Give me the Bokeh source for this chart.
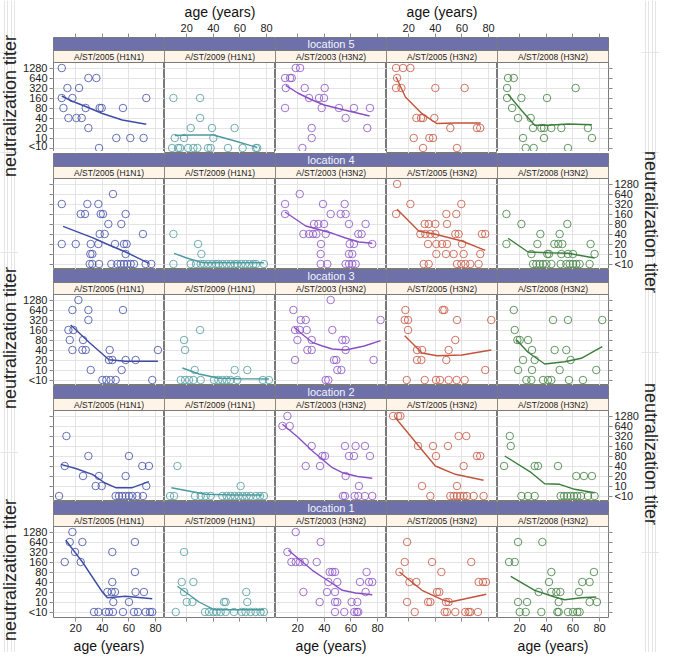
from bokeh.plotting import figure
from bokeh.models import Range1d, FixedTicker, LinearAxis, Grid, BoxAnnotation, Label
from bokeh.layouts import gridplot, row
from bokeh.embed import file_html
from bokeh.resources import INLINE

# ---------------- data ----------------
AGE_TICKS = [20, 40, 60, 80]
TITER_LABELS = ["<10", "10", "20", "40", "80", "160", "320", "640", "1280"]   # level 0..8
LOCATIONS = ["location 5", "location 4", "location 3", "location 2", "location 1"]
STRAINS = ["A/ST/2005 (H1N1)", "A/ST/2009 (H1N1)", "A/ST/2003 (H3N2)",
           "A/ST/2005 (H3N2)", "A/ST/2008 (H3N2)"]
STRAIN_COLORS = ["#3E4CA6", "#4B9A9F", "#8A4FC4", "#C4533C", "#3C7D3C"]

# (age, titer level) pairs per panel; level 0 = "<10", 8 = "1280"
loc5_s1 = [(9.5,8),(13.75,6),(22.5,6),(29.5,7),(35.5,7),(9.5,5),(17.5,5),(73,5),(10.75,4),(27.5,4),
           (38,4),(39.5,4),(55.5,4),(14.5,3),(20.5,3),(24.5,3),(29.5,2),(50.5,1),(61,1),(71,1),(37.5,0)]
loc5_s1_fit = [(9.5,5.2),(17,4.7),(27.5,4.15),(40,3.45),(55,2.8),(73,2.37)]
loc5_s2 = [(10,5),(30,5),(30,3),(23,2),(39,2),(56,2),(11,1),(18,1),(40,1),(9,0),(13.5,0),(15,0),
           (21,0),(25,0),(28,0),(36,0),(38,0),(51,0),(62,0),(72,0),(73,0)]
loc5_s2_fit = [(11,1.25),(25,1.3),(40,1.3),(55,0.75),(73,0.05)]
loc5_s3 = [(18.5,8),(21.75,8),(10.5,7),(14.25,7),(15.5,7),(11,6),(25.25,6),(40.25,6),(28.5,5),(36,5),
           (39.75,5),(10.5,4),(38,4),(51,4),(62.25,4),(74.25,4),(56,3),(72.25,2),(30.5,2),(30.5,1),(23.5,0)]
loc5_s3_fit = [(11,6.27),(20,5.5),(30,4.85),(40,4.3),(55,3.8),(74,3.2)]
loc5_s4 = [(10.5,8),(15.75,8),(21.25,8),(11.25,7),(10.5,6),(14.5,6),(40,6),(62,6),(25.75,3),(29.25,3),
           (30.75,3),(39.25,3),(51.25,2),(71.25,2),(73.75,2),(23.75,1),(35.5,1),(38.25,1),(30.75,0),(56.25,0)]
loc5_s4_fit = [(10.5,7.1),(17.5,5.1),(30,3.43),(41,2.45),(55,2.5),(74,2.5)]
loc5_s5 = [(11.25,7),(15.5,7),(10.5,6),(62,6),(10.5,5),(21.25,5),(40.5,5),(14.25,4),(18.75,3),(28.25,3),
           (30,2),(36.25,2),(38.25,2),(43.75,2),(51.25,2),(71.25,2),(22.5,1),(38.25,1),(74.25,1),
           (24.5,0),(30.5,0),(56.25,0)]
loc5_s5_fit = [(11.25,5.37),(21.25,3.77),(31.25,2.27),(41.25,2.27),(56.25,2.4),(74.25,2.33)]

loc4_s1 = [(48,7),(9.5,6),(28.75,6),(37,6),(23.75,5),(27,5),(38.75,5),(40.5,5),(57.5,5),(44.5,4),(54.25,4),
           (38,3),(41.75,3),(70.5,3),(9.5,2),(20,2),(31.25,2),(37,2),(49.5,2),(56.25,2),(58.25,2),(31,1),
           (32.5,1),(57.5,1),(30.5,0),(32.5,0),(37.5,0),(46.75,0),(51.25,0),(53.75,0),(56.25,0),(58.75,0),
           (61.25,0),(63.75,0),(72.5,0),(76.75,0)]
loc4_s1_fit = [(10.5,3.77),(32.5,2.63),(45,1.9),(57.5,1.2),(75,0.07)]
loc4_s2 = [(10,3),(28.5,2),(31,1),(10,0),(23,0),(27,0),(30.5,0),(33,0),(36,0),(39,0),(42,0),(44,0),(47,0),
           (50,0),(53,0),(56,0),(58,0),(61,0),(64,0),(67,0),(70,0),(72,0),(78,0)]
loc4_s2_fit = [(10.5,1.07),(20,0.6),(31.75,0.13),(50,0.13),(78,0.13)]
loc4_s3 = [(21.5,7),(10.5,6),(39,6),(55.25,6),(10.5,5),(44.75,5),(52.25,5),(56,5),(32.25,4),(35.5,4),
           (39.75,4),(58.5,4),(71,4),(24.25,3),(28.5,3),(31.5,3),(34,3),(41,3),(65.5,3),(68,3),(37.5,2),
           (59,2),(62.25,2),(76,2),(37.25,1),(58.5,1),(61,1),(37.25,0),(42.25,0),(56,0),(58.5,0),(61,0),(63.5,0)]
loc4_s3_fit = [(10.5,5.2),(26,3.8),(46,3.07),(56,2.6),(66,2.2),(76,2.07)]
loc4_s4 = [(11.25,8),(21.25,6),(59.5,6),(10.5,5),(48.25,5),(55.75,5),(32,4),(35,4),(40,4),(48.75,4),
           (28.75,3),(32.5,3),(36.25,3),(40,3),(55,3),(57.5,3),(75,3),(77.5,3),(34.5,2),(40.75,2),(45,2),
           (48.75,2),(60,2),(40.75,1),(48,1),(53.75,1),(61.25,1),(73.75,1),(31.25,0),(35,0),(56.25,0),
           (59.5,0),(62.5,0),(66.25,0),(72.5,0)]
loc4_s4_fit = [(11.25,5.47),(27.5,3.3),(40,2.97),(60,2.3),(77.5,1.37)]
loc4_s5 = [(10,5),(21.25,4),(55.75,4),(35.5,3),(50,3),(10,2),(33.25,2),(46,2),(49,2),(52,2),(73.25,2),
           (28.75,1),(40.75,1),(42,1),(51.25,1),(56.25,1),(60,1),(76.25,1),(30,0),(32.5,0),(35,0),(37.5,0),
           (40,0),(43.75,0),(50.75,0),(55,0),(57.5,0),(60,0),(62.5,0),(65,0),(72.5,0)]
loc4_s5_fit = [(11.25,2.57),(26.25,1.2),(41.25,1.13),(56.25,1.07),(76.25,0.6)]

loc3_s1 = [(22,8),(17.5,7),(29.5,7),(55.5,7),(29.5,6),(14.5,5),(18.25,5),(15.5,4),(25.5,4),(17.5,3),(25,3),
           (27.5,3),(45.5,3),(81.75,3),(45,2),(47.5,2),(57.5,2),(65,2),(31.25,1),(54.5,1),(40,0),(43,0),
           (46.25,0),(50,0),(77.5,0)]
loc3_s1_fit = [(16.25,5.5),(30,3.77),(45,2.03),(57.5,1.87),(81.75,1.87)]
loc3_s2 = [(30,5),(18,4),(18.75,3),(26,1),(56,1),(65.5,1),(15.5,0),(18.75,0),(21.75,0),(25,0),(30.5,0),
           (40.5,0),(43.75,0),(46.75,0),(50,0),(53,0),(58,0),(77.25,0),(81.75,0)]
loc3_s2_fit = [(16.75,1.2),(29.25,0.6),(44.25,0.17),(60,0.12),(81.75,0.1)]
loc3_s3 = [(16.75,7),(22.25,6),(26,6),(18,5),(21.5,5),(26.75,5),(19.75,4),(30.5,4),(27.25,3),(30.5,3),
           (18,2),(41,0),(43,0),(44.75,8),(82.25,6),(46,5),(53.5,4),(56,4),(56,3),(47.25,2),(49,2),(77,2),
           (49.75,1),(52.75,1)]
loc3_s3_fit = [(17.25,5.27),(25,4.4),(31,3.77),(38.5,3.4),(46,3.1),(56,3.0),(70,3.4),(82.25,3.93)]
loc3_s4 = [(17.5,7),(45.5,7),(46.75,7),(17,6),(19.5,6),(56.25,6),(82,6),(19.5,5),(55,4),(26.25,3),(30,3),
           (50,3),(26.25,2),(29.5,2),(48.25,2),(77.5,1),(18.5,0),(32,0),(40.5,0),(43.5,0),(50,0),(56,0),(62,0)]
loc3_s4_fit = [(17,4.43),(30,2.7),(41.25,2.43),(60,2.5),(82,3.0)]
loc3_s5 = [(15.5,7),(45,6),(56.25,6),(82,6),(16.25,5),(18.25,4),(20,4),(26.25,4),(29.25,3),(46.25,3),
           (55,3),(22.5,2),(31.25,2),(58.25,2),(18.75,1),(29.25,1),(50,1),(77.5,1),(25,0),(28.75,0),
           (37.5,0),(41.25,0),(43.75,0),(57,0),(67.5,0)]
loc3_s5_fit = [(17.5,4.03),(26.25,2.77),(38.75,1.6),(53.75,1.83),(66.25,2.17),(82,3.33)]

loc2_s1 = [(13,6),(29.5,4),(60,4),(11.75,3),(70,3),(75,3),(25.5,2),(37.5,2),(57.5,2),(35,1),(39.5,1),
           (73,1),(7.5,0),(50,0),(52.5,0),(55,0),(57.5,0),(60,0),(62.5,0),(66.25,0),(70.5,0)]
loc2_s1_fit = [(8.75,3.17),(20,2.75),(32.5,2.17),(42,1.3),(50,0.83),(62.5,0.83),(75,1.43)]
loc2_s2 = [(13,3),(60.5,1),(7.5,0),(10.5,0),(26.25,0),(30.5,0),(34.25,0),(38,0),(46.75,0),(50,0),(53,0),
           (56,0),(59,0),(62,0),(65,0),(68,0),(72,0),(75,0),(78,0)]
loc2_s2_fit = [(8.5,0.83),(34.25,0.17),(55,0.1),(76.75,0.1)]
loc2_s3 = [(12.25,8),(8.5,7),(14,7),(30.5,5),(38.5,4),(40.5,4),(26,3),(36.75,3),(55.5,5),(63.5,5),(70.5,5),
           (58.5,4),(62.25,4),(74.25,4),(56,2),(66,1),(54,0),(55.5,0),(62.75,0),(65.5,0),(70.5,0),(76,0)]
loc2_s3_fit = [(8.5,7.17),(20,5.9),(31,4.5),(46,2.83),(53.5,2.33),(65,1.95),(76,1.77)]
loc2_s4 = [(8.25,8),(12,8),(13.75,8),(57.5,6),(63.25,6),(27,5),(38.25,5),(49.5,5),(40.5,4),(71.25,4),
           (73.75,4),(61.25,3),(30,1),(56.25,1),(36.25,0),(51.25,0),(53.75,0),(56.25,0),(58.75,0),(61.25,0),
           (63.75,0),(68.75,0),(76.25,0)]
loc2_s4_fit = [(10,7.83),(27.5,5.0),(40,3.0),(55,2.17),(76.25,1.57)]
loc2_s5 = [(12.5,6),(13.25,5),(8.25,3),(31.25,3),(33.75,3),(48.75,3),(62.5,2),(68.25,2),(74.25,2),
           (21.25,0),(26.25,0),(31.25,0),(50.75,0),(53.25,0),(55.75,0),(58.25,0),(60.75,0),(63.25,0),
           (66,0),(71.25,0),(76.25,0)]
loc2_s5_fit = [(8.75,4.0),(28.75,2.33),(38.75,1.23),(50,1.17),(61.25,0.67),(76.25,0.33)]

loc1_s1 = [(17.5,8),(15.5,7),(25,7),(64.5,7),(19.5,6),(47.5,6),(11.75,5),(23.75,5),(64.5,4),(47.5,3),
           (43.75,2),(47,2),(49.5,2),(65,2),(71.25,2),(48.25,1),(60,1),(33.75,0),(37,0),(42.5,0),(45,0),
           (48,0),(55.5,0),(63.75,0),(66.75,0),(72.5,0),(75.75,0),(77.5,0)]
loc1_s1_fit = [(12.5,7.17),(25,5.0),(40,2.0),(43.75,1.43),(57.5,1.57),(77.5,1.33)]
loc1_s2 = [(18,6),(16.25,3),(25,3),(18,2),(64.75,2),(20,1),(24.25,1),(48,1),(49.25,1),(65.5,1),(11.75,0),
           (33.75,0),(36.75,0),(40,0),(42.5,0),(45.5,0),(49.25,0),(55.5,0),(61.25,0),(64.25,0),(68,0),
           (71.75,0),(75.5,0),(78,0)]
loc1_s2_fit = [(13,2.57),(29.25,1.0),(40.5,0.23),(78,0.23)]
loc1_s3 = [(18.5,8),(37.25,7),(12.25,6),(15.25,5),(18.5,5),(21.5,5),(25.25,5),(34.25,5),(44,4),(46,4),
           (48,4),(71.75,4),(43,3),(49.75,3),(66.75,3),(73.5,3),(76,3),(24.25,2),(42,2),(48,2),(71,2),
           (36.5,1),(48,1),(49.75,1),(60.5,1),(64.75,1),(48,0),(55,0),(62.5,0),(64.5,0),(65.5,0)]
loc1_s3_fit = [(13,6.17),(31,4.17),(38.5,3.5),(46,2.85),(53.5,2.17),(63.5,1.9),(76,1.73)]
loc1_s4 = [(18.75,7),(17,5),(37.5,5),(67,5),(13,4),(44.5,4),(20.5,3),(25.75,3),(72.5,3),(75.75,3),(78,3),
           (41.25,2),(43,2),(18.75,1),(34.5,1),(36.25,1),(48,1),(50,1),(24.5,0),(47,0),(48.75,0),(55,0),
           (62.5,0),(65,0),(66.25,0),(72,0)]
loc1_s4_fit = [(13,4.0),(30,2.17),(45,1.23),(51.25,1.0),(78.25,1.77)]
loc1_s5 = [(18.75,7),(37,7),(12,5),(16.25,5),(43.75,4),(75.75,4),(42,3),(67,3),(72.5,3),(34.25,2),
           (43.75,2),(47.5,2),(50.5,2),(64.5,2),(18.75,1),(25.5,1),(49.25,1),(72.5,1),(78,1),(20,0),
           (24.5,0),(36.25,0),(48.25,0),(49.25,0),(56.25,0),(60,0),(63.25,0),(65,0)]
loc1_s5_fit = [(13.25,3.57),(31.25,2.17),(46.25,1.5),(53.75,1.23),(66.25,1.43),(77.5,1.5)]

PANELS = [
    [(loc5_s1, loc5_s1_fit), (loc5_s2, loc5_s2_fit), (loc5_s3, loc5_s3_fit), (loc5_s4, loc5_s4_fit), (loc5_s5, loc5_s5_fit)],
    [(loc4_s1, loc4_s1_fit), (loc4_s2, loc4_s2_fit), (loc4_s3, loc4_s3_fit), (loc4_s4, loc4_s4_fit), (loc4_s5, loc4_s5_fit)],
    [(loc3_s1, loc3_s1_fit), (loc3_s2, loc3_s2_fit), (loc3_s3, loc3_s3_fit), (loc3_s4, loc3_s4_fit), (loc3_s5, loc3_s5_fit)],
    [(loc2_s1, loc2_s1_fit), (loc2_s2, loc2_s2_fit), (loc2_s3, loc2_s3_fit), (loc2_s4, loc2_s4_fit), (loc2_s5, loc2_s5_fit)],
    [(loc1_s1, loc1_s1_fit), (loc1_s2, loc1_s2_fit), (loc1_s3, loc1_s3_fit), (loc1_s4, loc1_s4_fit), (loc1_s5, loc1_s5_fit)],
]

# ---------------- style / layout ----------------
FONT = "Liberation Sans"
FRAME_W, FRAME_H = 111, 116
X0, X1 = 3.3, 86.7
Y0 = -0.55            # panel bottom (level units, 10 px per level)
PANEL_TOP = 8.55
STRAIN_TOP = 9.75
Y_TOP = 11.05
B_LEFT, B_RIGHT, B_TOP, B_BOTTOM = 35, 33, 35, 37
TITLE_W = 18
TOTAL_H = B_TOP + 5 * FRAME_H + B_BOTTOM
GRID_COLOR = "#e4e4e4"
BORDER = "#7a7a7a"
TICK_COLOR = "#8a8a8a"
LABEL_COLOR = "#222222"
LOC_BG = "#6E70A9"
STRAIN_BG = "#FFF4E8"


def x_axis(show, standoff):
    return LinearAxis(
        ticker=FixedTicker(ticks=AGE_TICKS), axis_line_color=None,
        major_tick_out=4, major_tick_in=0, minor_tick_line_color=None,
        major_tick_line_color=TICK_COLOR, major_label_standoff=2,
        major_label_text_font=FONT, major_label_text_font_size="11px",
        major_label_text_color=LABEL_COLOR if show else None,
        axis_label="age (years)" if show else None, axis_label_standoff=standoff,
        axis_label_text_font=FONT, axis_label_text_font_size="14px",
        axis_label_text_font_style="normal", axis_label_text_color="#111111")


def y_axis(show):
    return LinearAxis(
        ticker=FixedTicker(ticks=list(range(len(TITER_LABELS)))),
        major_label_overrides={i: t for i, t in enumerate(TITER_LABELS)},
        axis_line_color=None, major_tick_out=4, major_tick_in=0,
        minor_tick_line_color=None, major_tick_line_color=TICK_COLOR,
        major_label_standoff=2, major_label_text_font=FONT,
        major_label_text_font_size="11px",
        major_label_text_color=LABEL_COLOR if show else None)


grid_rows = []
for r in range(5):
    row_figs = []
    for c in range(5):
        p = figure(frame_width=FRAME_W, frame_height=FRAME_H,
                   x_range=Range1d(X0, X1), y_range=Range1d(Y0, Y_TOP),
                   x_axis_location=None, y_axis_location=None,
                   toolbar_location=None, output_backend="svg", min_border=0,
                   min_border_left=B_LEFT if c == 0 else 0,
                   min_border_right=B_RIGHT if c == 4 else 0,
                   min_border_top=B_TOP if r == 0 else 0,
                   min_border_bottom=B_BOTTOM if r == 4 else 0,
                   outline_line_color=BORDER, outline_line_width=1,
                   background_fill_color="white", border_fill_color="white")
        p.add_layout(Grid(dimension=0, ticker=FixedTicker(ticks=AGE_TICKS),
                          grid_line_color=GRID_COLOR))
        p.add_layout(Grid(dimension=1, ticker=FixedTicker(ticks=list(range(len(TITER_LABELS)))),
                          grid_line_color=GRID_COLOR))
        if r == 0:
            p.add_layout(x_axis(c in (1, 3), 1), "above")
        if r == 4:
            p.add_layout(x_axis(c in (0, 2, 4), 3), "below")
        if c == 0:
            p.add_layout(y_axis(r in (0, 2, 4)), "left")
        if c == 4:
            p.add_layout(y_axis(r in (1, 3)), "right")

        pts, fit = PANELS[r][c]
        color = STRAIN_COLORS[c]
        p.scatter([a for a, _ in pts], [v for _, v in pts], marker="circle", size=7.5,
                  fill_color=None, line_color=color, line_alpha=0.8, line_width=1)
        p.line([a for a, _ in fit], [v for _, v in fit], line_color=color, line_width=1.4)

        # strips
        p.add_layout(BoxAnnotation(left=X0, right=X1, bottom=PANEL_TOP, top=STRAIN_TOP,
                                   fill_color=STRAIN_BG, fill_alpha=1,
                                   line_color=BORDER, line_alpha=1, line_width=1))
        p.add_layout(BoxAnnotation(left=X0, right=X1, bottom=STRAIN_TOP, top=Y_TOP,
                                   fill_color=LOC_BG, fill_alpha=1,
                                   line_color=BORDER, line_alpha=1, line_width=1))
        p.add_layout(Label(x=(X0 + X1) / 2, y=(PANEL_TOP + STRAIN_TOP) / 2, text=STRAINS[c],
                           text_align="center", text_baseline="middle", text_font=FONT,
                           text_font_size="8.5px", text_color=LABEL_COLOR))
        if c == 2:
            p.add_layout(Label(x=(X0 + X1) / 2, y=(STRAIN_TOP + Y_TOP) / 2, text=LOCATIONS[r],
                               text_align="center", text_baseline="middle", text_font=FONT,
                               text_font_size="11px", text_color="#F4F4FF"))
        row_figs.append(p)
    grid_rows.append(row_figs)

grid = gridplot(grid_rows, toolbar_location=None)


def title_fig(rows, angle):
    f = figure(width=TITLE_W, height=TOTAL_H, x_range=Range1d(0, 1), y_range=Range1d(0, TOTAL_H),
               x_axis_location=None, y_axis_location=None, toolbar_location=None,
               output_backend="svg", min_border=0, outline_line_color=None,
               background_fill_color="white", border_fill_color="white")
    for r in rows:
        yc = TOTAL_H - (B_TOP + r * FRAME_H + 25 + (FRAME_H - 25) / 2)
        f.add_layout(Label(x=0.5, y=yc, text="neutralization titer", angle=angle,
                           text_align="center", text_baseline="middle", text_font=FONT,
                           text_font_size="18px", text_color="#222222"))
    return f


left = title_fig([0, 2, 4], 1.5707963267948966)
right = title_fig([1, 3], -1.5707963267948966)

layout = row(left, grid, right)
open("out.html", "w").write(file_html(layout, INLINE))
